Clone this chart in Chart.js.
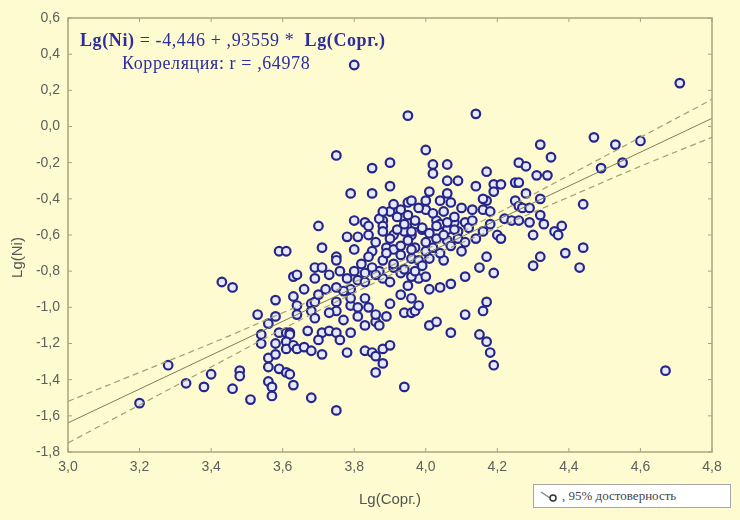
<!DOCTYPE html>
<html><head><meta charset="utf-8">
<script src="https://cdn.jsdelivr.net/npm/chart.js@4.4.1/dist/chart.umd.min.js"></script>
<style>
html,body{margin:0;padding:0;background:#FDFBCF;}
#wrap{position:relative;width:740px;height:520px;overflow:hidden;}
canvas{display:block}
.eq{position:absolute;font-family:'Liberation Serif','Times New Roman',serif;color:#2d2d9c;white-space:nowrap;line-height:1;letter-spacing:0.6px}
#eq1{left:80px;top:31px;font-size:18px}
#eq2{left:122px;top:54px;font-size:18px}
#leg{position:absolute;left:533px;top:484px;width:198px;height:24px;background:#fff;border:1px solid #a8a8a0;box-sizing:border-box;font-family:'Liberation Serif',serif;font-size:13px;color:#444;display:flex;align-items:center;}
#leg svg{margin-left:6px;margin-right:2px}
</style></head>
<body>
<div id="wrap">
<canvas id="c" width="740" height="520"></canvas>
<div class="eq" id="eq1"><b>Lg(Ni)</b> = -4,446 + ,93559 *&nbsp; <b>Lg(Сорг.)</b></div>
<div class="eq" id="eq2">Корреляция: r = ,64978</div>
<div id="leg"><svg width="20" height="14"><line x1="1" y1="3" x2="10" y2="9" stroke="#888" stroke-width="1.5"/><circle cx="13" cy="9" r="3" fill="#fff" stroke="#333" stroke-width="1.5"/></svg><span>, 95% достоверность</span></div>
</div>
<script>
const xTicks = [3.0,3.2,3.4,3.6,3.8,4.0,4.2,4.4,4.6,4.8];
const yTicks = [0.6,0.4,0.2,0.0,-0.2,-0.4,-0.6,-0.8,-1.0,-1.2,-1.4,-1.6,-1.8];

const corgX = [
3.80,3.95,4.14,4.71,4.67,
3.43,3.46,3.59,3.58,3.53,3.58,3.56,3.54,3.54,3.59,3.58,3.56,3.58,3.56,3.59,3.56,3.57,3.57,3.28,3.40,3.48,3.48,3.33,3.38,3.46,3.51,3.20,
3.75,4.00,3.85,3.90,4.02,4.02,4.06,4.17,4.06,4.09,3.90,3.79,3.85,3.70,3.78,3.80,3.83,3.88,3.90,3.93,3.92,3.95,3.96,4.00,4.00,4.01,4.03,4.04,4.06,4.07,4.10,4.13,4.16,4.18,4.17,4.19,4.18,4.16,4.11,4.08,4.09,4.04,4.06,3.97,3.99,3.94,3.96,3.87,3.88,3.91,3.84,
3.71,3.75,3.75,3.80,3.85,3.89,3.91,3.93,3.95,3.97,4.00,4.03,4.06,4.09,4.11,4.01,4.05,3.96,3.88,4.15,4.17,4.19,4.11,4.07,4.04,4.01,3.98,4.00,3.96,3.95,3.93,3.91,3.88,3.90,3.87,3.85,3.83,3.81,3.83,3.79,3.77,3.75,3.72,3.63,3.64,3.69,3.69,3.61,3.64,3.64,3.68,3.68,3.69,3.69,3.75,3.75,3.79,3.81,3.83,3.84,3.86,3.87,3.86,3.89,3.94,3.96,3.97,3.98,4.01,4.03,4.07,4.11,4.15,4.17,4.16,4.17,4.18,4.19,3.61,3.62,3.62,3.61,3.61,3.63,3.64,3.66,3.68,3.71,3.73,3.75,3.71,3.78,3.83,3.85,3.88,3.90,3.86,3.88,3.86,3.61,3.62,3.63,3.68,3.75,3.94,
4.47,4.53,4.60,4.32,4.35,4.49,4.55,4.26,4.28,4.31,4.34,4.25,4.26,4.28,4.21,4.32,4.44,4.25,4.26,4.27,4.29,4.22,4.24,4.26,4.29,4.32,4.33,4.38,4.36,4.30,4.20,
4.30,4.32,4.39,4.44,4.43,4.37,4.21,
3.88,3.90,3.92,3.94,3.96,3.97,3.99,4.01,4.03,4.05,4.06,4.08,3.86,3.89,3.93,3.96,3.98,4.00,4.02,4.04,4.07,4.10,3.91,3.94,3.97,3.99,3.84,3.82,3.80,3.86,3.78,3.76,3.73,3.71,3.79,3.81,3.77,3.73,3.70,3.66,3.63,3.67,3.70,3.76,3.79,3.83,3.90,3.93,3.96,3.88,3.91,3.98,4.05,4.08,4.12,4.14,4.13,3.84,3.81,3.95,4.02,4.16,4.19,4.14
];
const niY = [
0.34,0.06,0.07,0.24,-1.35,
-0.86,-0.89,-0.69,-0.96,-1.04,-1.05,-1.09,-1.15,-1.20,-1.14,-1.20,-1.28,-1.26,-1.33,-1.34,-1.41,-1.44,-1.49,-1.32,-1.37,-1.35,-1.38,-1.42,-1.44,-1.45,-1.51,-1.53,
-0.16,-0.13,-0.23,-0.20,-0.21,-0.26,-0.21,-0.25,-0.30,-0.30,-0.33,-0.37,-0.37,-0.55,-0.61,-0.52,-0.53,-0.52,-0.47,-0.46,-0.50,-0.42,-0.41,-0.41,-0.46,-0.36,-0.52,-0.41,-0.37,-0.42,-0.45,-0.46,-0.46,-0.47,-0.41,-0.32,-0.54,-0.58,-0.53,-0.53,-0.58,-0.54,-0.57,-0.54,-0.57,-0.58,-0.60,-0.51,-0.55,-0.60,-0.60,
-0.67,-0.72,-0.74,-0.68,-0.69,-0.67,-0.68,-0.66,-0.63,-0.67,-0.64,-0.62,-0.63,-0.62,-0.64,-0.73,-0.74,-0.73,-0.74,-0.78,-0.72,-0.81,-0.83,-0.87,-0.89,-0.90,-0.84,-0.83,-0.83,-0.88,-0.81,-0.78,-0.84,-0.86,-0.80,-0.78,-0.81,-0.85,-0.86,-0.90,-0.91,-0.89,-0.90,-0.83,-0.82,-0.84,-0.78,-0.69,-0.99,-1.04,-0.98,-1.02,-1.06,-0.97,-0.97,-1.02,-0.99,-1.00,-0.95,-1.00,-1.08,-1.10,-1.04,-1.05,-1.03,-1.03,-1.02,-0.99,-1.10,-1.08,-1.14,-1.04,-1.15,-1.19,-1.02,-0.97,-1.25,-1.32,-1.14,-1.14,-1.15,-1.19,-1.23,-1.21,-1.23,-1.22,-1.24,-1.14,-1.13,-1.14,-1.26,-1.25,-1.24,-1.25,-1.23,-1.21,-1.27,-1.31,-1.36,-1.36,-1.37,-1.43,-1.50,-1.57,-1.44,
-0.06,-0.10,-0.08,-0.10,-0.17,-0.23,-0.20,-0.20,-0.22,-0.27,-0.27,-0.31,-0.31,-0.37,-0.32,-0.40,-0.43,-0.41,-0.44,-0.45,-0.45,-0.51,-0.52,-0.52,-0.53,-0.49,-0.54,-0.55,-0.58,-0.60,-0.60,
-0.77,-0.72,-0.70,-0.67,-0.78,-0.60,-0.62,
-0.58,-0.62,-0.57,-0.54,-0.58,-0.52,-0.56,-0.59,-0.55,-0.60,-0.53,-0.57,-0.64,-0.70,-0.71,-0.68,-0.74,-0.69,-0.67,-0.70,-0.66,-0.69,-0.76,-0.79,-0.80,-0.77,-0.72,-0.76,-0.80,-0.82,-0.84,-0.80,-0.82,-0.78,-0.95,-1.05,-1.07,-1.03,-0.93,-0.90,-0.94,-1.13,-1.18,-1.18,-1.14,-1.10,-0.98,-0.93,-0.95,-0.47,-0.43,-0.45,-0.47,-0.50,-0.56,-0.62,-0.52,-0.55,-0.61,-0.49,-0.48,-0.40,-0.36,-0.33
];

const fitX = [3.0, 4.8];
const fitY = [-1.639, 0.045];
const bandX = [3.0,3.2,3.4,3.6,3.8,4.0,4.2,4.4,4.6,4.8];
const bandUpper = [-1.52,-1.36,-1.20,-1.03,-0.86,-0.68,-0.48,-0.27,-0.06,0.15];
const bandLower = [-1.75,-1.54,-1.33,-1.12,-0.92,-0.73,-0.56,-0.39,-0.22,-0.06];

const pts = corgX.map((x,i)=>({x:x, y:niY[i]}));
const fit = fitX.map((x,i)=>({x:x, y:fitY[i]}));
const up = bandX.map((x,i)=>({x:x, y:bandUpper[i]}));
const lo = bandX.map((x,i)=>({x:x, y:bandLower[i]}));

const fmt = v => (Math.abs(v) < 1e-9 ? 0 : v).toFixed(1).replace('.', ',');
const axisColor = '#a8a47c';

const frame = {
  id: 'frame',
  afterDraw(chart) {
    const {ctx, chartArea: a, scales} = chart;
    ctx.save();
    ctx.strokeStyle = axisColor;
    ctx.lineWidth = 1.5;
    ctx.strokeRect(a.left, a.top, a.right - a.left, a.bottom - a.top);
    ctx.lineWidth = 1;
    xTicks.forEach(v => {
      const px = scales.x.getPixelForValue(v);
      ctx.beginPath(); ctx.moveTo(px, a.bottom); ctx.lineTo(px, a.bottom - 4);
      ctx.moveTo(px, a.top); ctx.lineTo(px, a.top + 4); ctx.stroke();
    });
    yTicks.forEach(v => {
      const py = scales.y.getPixelForValue(v);
      ctx.beginPath(); ctx.moveTo(a.left, py); ctx.lineTo(a.left + 4, py);
      ctx.moveTo(a.right, py); ctx.lineTo(a.right - 4, py); ctx.stroke();
    });
    ctx.restore();
  }
};

new Chart(document.getElementById('c'), {
  type: 'scatter',
  data: {
    datasets: [
      { label: 'data', data: pts, order: 2, showLine: false,
        pointRadius: 4.3, pointBorderWidth: 2.2, borderColor: '#26268a', backgroundColor: '#e6e9fa' },
      { type: 'line', label: 'fit', data: fit, order: 1, borderColor: '#7f7d58', borderWidth: 1,
        pointRadius: 0, fill: false, tension: 0 },
      { type: 'line', label: 'up', data: up, order: 1, borderColor: '#a3a071', borderWidth: 1.2,
        borderDash: [6,4], pointRadius: 0, fill: false, tension: 0.4 },
      { type: 'line', label: 'lo', data: lo, order: 1, borderColor: '#a3a071', borderWidth: 1.2,
        borderDash: [6,4], pointRadius: 0, fill: false, tension: 0.4 }
    ]
  },
  options: {
    responsive: false,
    animation: false,
    devicePixelRatio: 1,
    layout: { padding: { top: 18, right: 28, left: 0, bottom: 0 } },
    plugins: { legend: { display: false }, tooltip: { enabled: false } },
    scales: {
      x: {
        type: 'linear', min: 3.0, max: 4.8,
        afterBuildTicks: s => { s.ticks = xTicks.map(v => ({value: v})); },
        afterFit: s => { s.height = 68; },
        grid: { display: false, drawTicks: false },
        border: { display: false },
        ticks: { callback: v => fmt(v), padding: 7, color: '#5e5e5e', font: { family: 'Liberation Sans', size: 14 } },
        title: { display: true, text: 'Lg(Сорг.)', color: '#555', padding: { top: 0, bottom: 11 },
                 font: { family: 'Liberation Sans', size: 15 } }
      },
      y: {
        type: 'linear', min: -1.8, max: 0.6,
        afterBuildTicks: s => { s.ticks = yTicks.map(v => ({value: v})); },
        afterFit: s => { s.width = 68; },
        grid: { display: false, drawTicks: false },
        border: { display: false },
        ticks: { callback: v => fmt(v), padding: 8, color: '#5e5e5e', font: { family: 'Liberation Sans', size: 14 } },
        title: { display: true, text: 'Lg(Ni)\u2003\u2003\u2003', color: '#555', padding: { top: 9, bottom: 0 },
                 font: { family: 'Liberation Sans', size: 15 } }
      }
    }
  },
  plugins: [frame]
});
</script>
</body></html>
